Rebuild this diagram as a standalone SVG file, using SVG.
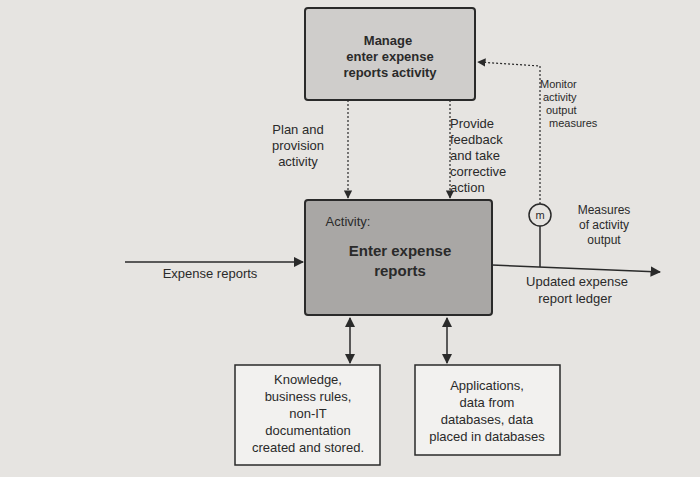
<svg xmlns="http://www.w3.org/2000/svg" width="700" height="477" viewBox="0 0 700 477">
<style>
text{font-family:"Liberation Sans",Arial,sans-serif;fill:#2a2a2a;font-size:13px;text-anchor:middle}
.b{font-weight:bold}
.ln{stroke:#2a2a2a;stroke-width:1.5;fill:none}
.d{stroke:#2a2a2a;stroke-width:1.2;fill:none;stroke-dasharray:2,2}
.box{stroke:#2a2a2a;stroke-width:2}
</style>
<defs>
<marker id="a" viewBox="0 0 10 10" refX="9" refY="5" markerWidth="7" markerHeight="7" orient="auto-start-reverse"><path d="M0,0L10,5L0,10z" fill="#2a2a2a"/></marker>
</defs>
<rect width="700" height="477" fill="#e6e4e1"/>
<g id="connectors">
<line class="ln" x1="125" y1="262" x2="303" y2="262" marker-end="url(#a)"/>
<line class="ln" x1="492" y1="265" x2="660" y2="272" marker-end="url(#a)"/>
<line class="d" x1="348" y1="100" x2="348" y2="198" marker-end="url(#a)"/>
<line class="d" x1="450" y1="100" x2="450" y2="198" marker-end="url(#a)"/>
<line class="ln" x1="540" y1="267" x2="540" y2="226"/>
<polyline class="d" points="540,204 540,66 478,62" marker-end="url(#a)"/>
<line class="ln" x1="350" y1="318" x2="350" y2="363" marker-start="url(#a)" marker-end="url(#a)"/>
<line class="ln" x1="447" y1="318" x2="447" y2="363" marker-start="url(#a)" marker-end="url(#a)"/>
</g>
<g id="manage"><rect class="box" x="305" y="8" width="170" height="92" rx="3" fill="#cfcdcb"/>
<text class="b" x="388" y="45">Manage</text><text class="b" x="390" y="61">enter expense</text><text class="b" x="390" y="77">reports activity</text></g>
<g id="activity"><rect class="box" x="305" y="200" width="187" height="115" rx="3" fill="#a9a7a5"/>
<text x="348" y="226">Activity:</text><text class="b" x="400" y="256" style="font-size:15px">Enter expense</text><text class="b" x="400" y="276" style="font-size:15px">reports</text></g>
<g id="m"><circle cx="540" cy="215" r="11" fill="#e6e4e1" stroke="#2a2a2a" stroke-width="1.5"/><text x="540" y="219" style="font-size:11px">m</text></g>
<g id="knowledge"><rect x="235" y="365" width="145" height="100" fill="#f2f1ef" stroke="#2a2a2a" stroke-width="1.5"/>
<text x="308" y="384">Knowledge,</text><text x="308" y="401">business rules,</text><text x="308" y="418">non-IT</text><text x="308" y="435">documentation</text><text x="308" y="452">created and stored.</text></g>
<g id="applications"><rect x="415" y="365" width="145" height="90" fill="#f2f1ef" stroke="#2a2a2a" stroke-width="1.5"/>
<text x="487" y="390">Applications,</text><text x="487" y="407">data from</text><text x="487" y="424">databases, data</text><text x="487" y="441">placed in databases</text></g>
<g id="labels">
<text x="298" y="134">Plan and</text><text x="298" y="150">provision</text><text x="298" y="166">activity</text>
<text x="470" y="128" style="text-anchor:start" transform="translate(-20,0)">Provide</text>
<text x="450" y="144" style="text-anchor:start">feedback</text><text x="450" y="160" style="text-anchor:start">and take</text><text x="450" y="176" style="text-anchor:start">corrective</text><text x="450" y="192" style="text-anchor:start">action</text>
<text x="540" y="88" style="text-anchor:start;font-size:11px">Monitor</text><text x="543" y="101" style="text-anchor:start;font-size:11px">activity</text><text x="546" y="114" style="text-anchor:start;font-size:11px">output</text><text x="549" y="127" style="text-anchor:start;font-size:11px">measures</text>
<text x="604" y="214" style="font-size:12px">Measures</text><text x="604" y="229" style="font-size:12px">of activity</text><text x="604" y="244" style="font-size:12px">output</text>
<text x="210" y="278">Expense reports</text>
<text x="577" y="286">Updated expense</text><text x="575" y="303">report ledger</text>
</g>
</svg>
